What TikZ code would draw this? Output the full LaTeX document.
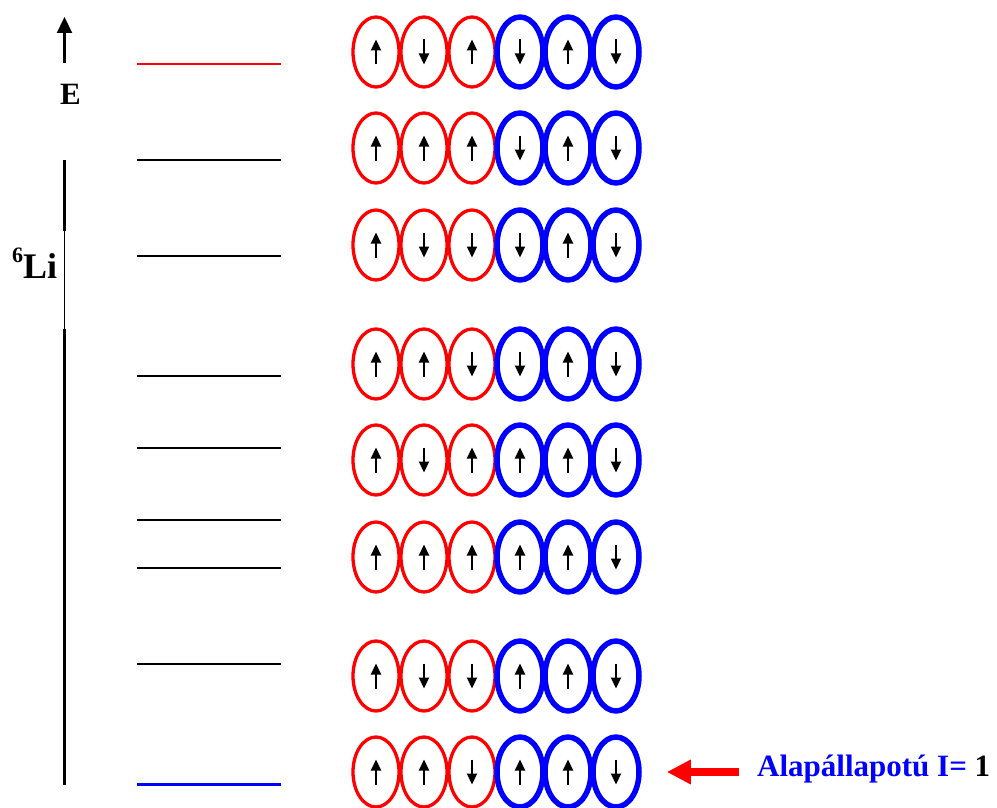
\documentclass[tikz,border=0pt]{standalone}
\usepackage{fontspec}
\setmainfont{Liberation Serif}
\usetikzlibrary{arrows.meta,shapes.geometric}

\tikzset{
  orb/.style={ellipse,draw,minimum width=46pt,minimum height=70pt,inner sep=0pt},
  proton/.style={orb,red,line width=3.3pt},
  neutron/.style={orb,blue,line width=5.5pt},
  spin/.style={line width=2pt,-{Triangle[length=11pt,width=10pt]}},
  level/.style={line width=2.2pt},
}

\begin{document}
\begin{tikzpicture}[x=1pt,y=-1pt,line join=round]
\useasboundingbox (0,0) rectangle (997,808);
% --- energy axis
\draw[line width=2.2pt,-{Triangle[length=16pt,width=15pt]}] (64.5,63) -- (64.5,17);
\node[anchor=base west,inner sep=0pt,font=\bfseries\fontsize{31}{36}\selectfont] (E) at (60,105) {E};
\draw[line width=2.2pt] (64.5,160) -- (64.5,231);
\draw[line width=0.8pt] (64.5,231) -- (64.5,329);
\draw[line width=2.2pt] (64.5,329) -- (64.5,785);
\node[anchor=base west,inner sep=0pt,font=\bfseries] (Li) at (12,278)
  {\raisebox{16pt}{\fontsize{22}{22}\selectfont 6}\fontsize{36}{40}\selectfont Li};
% --- level scheme
\draw[level,red] (137,64) -- (281,64);
\foreach \y in {160,256,376,448,520,568,664} \draw[level] (137,\y) -- (281,\y);
\draw[level,blue,line width=3pt] (137,784) -- (281,784);
% --- nucleon configurations (1 = up, -1 = down)
\foreach \y/\spins [count=\r] in {52/{1,-1,1,-1,1,-1},148/{1,1,1,-1,1,-1},245/{1,-1,-1,-1,1,-1},364/{1,1,-1,-1,1,-1},
  460/{1,-1,1,1,1,-1},557/{1,1,1,1,1,-1},676/{1,-1,-1,1,1,-1},772/{1,1,-1,1,1,-1}}
  {\foreach \s [count=\c] in \spins {\ifnum\c<4 \def\orbstyle{proton}\else\def\orbstyle{neutron}\fi
    \node[\orbstyle] (e\r-\c) at (328+48*\c,\y) {};
    \draw[spin] (e\r-\c.center) ++(0,12.5*\s) -- ++(0,-25*\s);}}
% --- ground state label
\node[anchor=base west,inner sep=0pt,font=\bfseries\fontsize{31}{36}\selectfont] (gs) at (757,776)
  {\textcolor{blue}{Alapállapotú I=} 1};
\draw[red,line width=8pt,-{Triangle[length=24pt,width=23pt]},shorten <=18pt,shorten >=25pt]
  (gs.west |- e8-6.east) -- (e8-6.east);
\end{tikzpicture}
\end{document}
